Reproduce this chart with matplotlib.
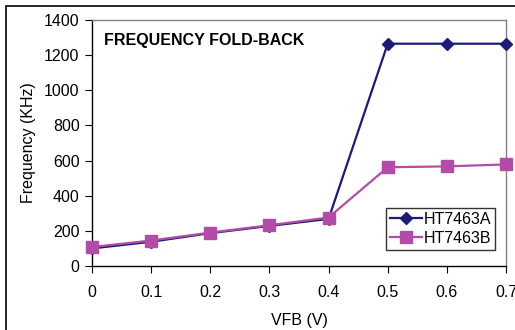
import matplotlib
matplotlib.use("Agg")
import matplotlib.pyplot as plt
from matplotlib.patches import Rectangle

plt.rcParams['font.family'] = ['Liberation Sans', 'DejaVu Sans']

# data
vfb = [0, 0.1, 0.2, 0.3, 0.4, 0.5, 0.6, 0.7]
ht7463a = [100, 138, 187, 228, 268, 1265, 1265, 1265]
ht7463b = [108, 145, 190, 232, 276, 562, 567, 578]
x_ticks = [0, 0.1, 0.2, 0.3, 0.4, 0.5, 0.6, 0.7]
x_labels = ['0', '0.1', '0.2', '0.3', '0.4', '0.5', '0.6', '0.7']
y_ticks = [0, 200, 400, 600, 800, 1000, 1200, 1400]

fig = plt.figure(figsize=(5.15, 3.3), dpi=100)
W, H = 515, 330
ax = fig.add_axes([92 / W, 1 - 266 / H, (506 - 92) / W, (266 - 20) / H])

# outer frame of the figure (only left and top edges show)
fig.patches.append(Rectangle((6 / W, -0.1), 1.2, 1 - 6 / H + 0.1,
                             transform=fig.transFigure, fill=False,
                             edgecolor='black', linewidth=1.2))

ax.plot(vfb, ht7463a, color='#1c1c78', marker='D', markersize=6,
        linewidth=1.6, label='HT7463A', clip_on=False, zorder=3)
ax.plot(vfb, ht7463b, color='#b24ca6', marker='s', markersize=8,
        linewidth=1.6, label='HT7463B', clip_on=False, zorder=4)

ax.set_xlim(0, 0.7)
ax.set_ylim(0, 1400)
ax.set_xticks(x_ticks)
ax.set_xticklabels(x_labels)
ax.set_yticks(y_ticks)
ax.tick_params(direction='out', length=5, labelsize=11.5, colors='black', pad=9)
ax.tick_params(axis='y', pad=4)

for side in ['top', 'right']:
    ax.spines[side].set_color('#808080')
for side in ['left', 'bottom']:
    ax.spines[side].set_color('black')
for s in ax.spines.values():
    s.set_linewidth(1.0)

ax.set_xlabel('VFB (V)', fontsize=11.5, labelpad=9)
ax.set_ylabel('Frequency (KHz)', fontsize=11.5, labelpad=6)

ax.text(0.03, 0.9, 'FREQUENCY FOLD-BACK', transform=ax.transAxes,
        fontsize=11.5, fontweight='bold')

leg = ax.legend(loc='lower right', bbox_to_anchor=(0.973, 0.065), fontsize=11.5,
                frameon=True, fancybox=False, edgecolor='black',
                borderpad=0.25, handlelength=2.0, handletextpad=0.1,
                labelspacing=0.25, borderaxespad=0.0)
leg.get_frame().set_linewidth(1.0)

fig.savefig('out.png', dpi=100)
